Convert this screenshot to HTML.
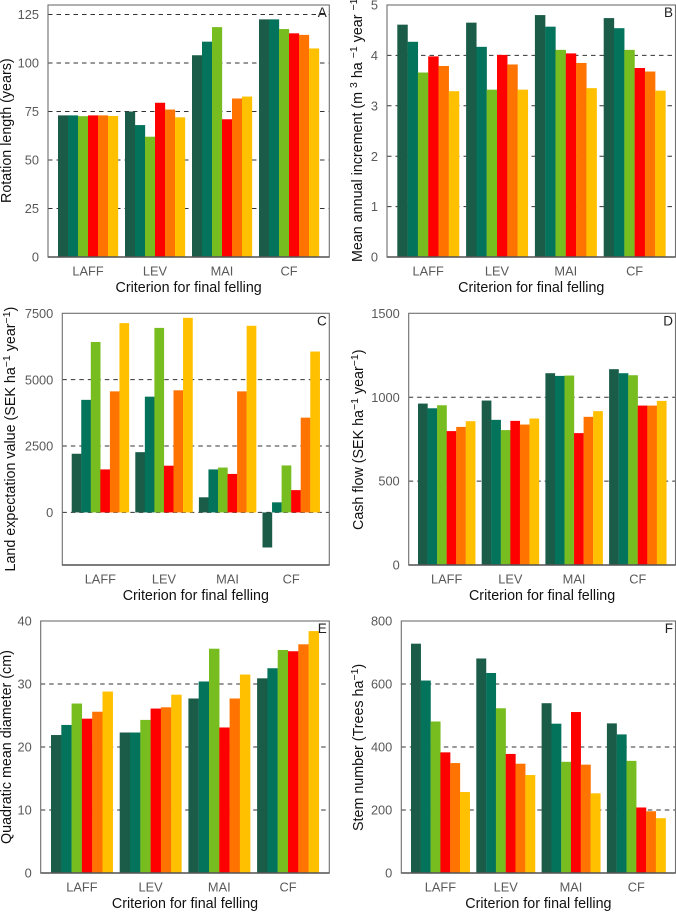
<!DOCTYPE html>
<html lang="en">
<head>
<meta charset="utf-8">
<title>Forest management criteria bar charts</title>
<style>
html,body{margin:0;padding:0;background:#fff;}
svg{display:block;font-family:"Liberation Sans",Arial,sans-serif;}
.tick{font-size:12.8px;fill:#595959;}
.title{font-size:14.3px;fill:#111;}
.letter{font-size:13.5px;fill:#222;}
</style>
</head>
<body>
<svg id="chart" width="676" height="912" viewBox="0 0 676 912" xmlns="http://www.w3.org/2000/svg"></svg>
<script>
const categories = ['LAFF', 'LEV', 'MAI', 'CF'];
const seriesColors = ['#1a5c47', '#03735c', '#78bd1f', '#ff0000', '#ff7300', '#ffc000'];

const valuesA = [[73, 73, 72.6, 73, 73, 72.7], [75, 68, 62, 79.5, 76, 72], [104, 111, 118.5, 71, 81.7, 82.7], [122.5, 122.5, 117.5, 115.3, 114.5, 107.5]];
const valuesB = [[4.61, 4.27, 3.66, 3.98, 3.79, 3.29], [4.65, 4.17, 3.32, 4.01, 3.82, 3.32], [4.80, 4.57, 4.11, 4.04, 3.85, 3.35], [4.74, 4.54, 4.11, 3.75, 3.68, 3.30]];
const valuesC = [[2210, 4240, 6420, 1620, 4560, 7130], [2270, 4360, 6950, 1760, 4600, 7330], [570, 1620, 1690, 1450, 4560, 7030], [-1320, 380, 1770, 840, 3570, 6060]];
const valuesD = [[962, 934, 952, 798, 823, 857], [980, 865, 804, 859, 837, 873], [1143, 1127, 1129, 786, 883, 917], [1167, 1143, 1131, 950, 950, 978]];
const valuesE = [[21.9, 23.5, 26.9, 24.5, 25.6, 28.8], [22.3, 22.3, 24.3, 26.1, 26.3, 28.3], [27.7, 30.4, 35.6, 23.1, 27.7, 31.5], [30.9, 32.5, 35.4, 35.2, 36.3, 38.4]];
const valuesF = [[728, 611, 481, 383, 349, 257], [681, 635, 523, 378, 347, 311], [539, 474, 353, 511, 344, 253], [475, 440, 356, 208, 196, 174]];

const ticksA = [0, 25, 50, 75, 100, 125];
const ticksB = [0, 1, 2, 3, 4, 5];
const ticksC = [0, 2500, 5000, 7500];
const ticksD = [0, 500, 1000, 1500];
const ticksE = [0, 10, 20, 30, 40];
const ticksF = [0, 200, 400, 600, 800];

const NS = 'http://www.w3.org/2000/svg';
const root = document.getElementById('chart');

function make(parent, tag, attrs, text) {
  const el = document.createElementNS(NS, tag);
  Object.keys(attrs).forEach(function (k) { el.setAttribute(k, attrs[k]); });
  if (text !== undefined) el.textContent = text;
  parent.appendChild(el);
  return el;
}

function addTitleParts(textEl, parts) {
  parts.forEach(function (p) {
    const span = document.createElementNS(NS, 'tspan');
    if (p.sup) {
      span.setAttribute('dy', '-5');
      span.setAttribute('font-size', '10.5');
    } else if (p.after) {
      span.setAttribute('dy', '5');
    }
    span.textContent = p.t;
    textEl.appendChild(span);
  });
}

function drawPanel(p) {
  const g = make(root, 'g', {});
  
  

  const y = function (v) { return p.bottom - (v - p.yMin) / (p.yMax - p.yMin) * (p.bottom - p.top); };
  const x = function (groupIndex, seriesIndex) { return p.firstBar + groupIndex * p.groupStep + seriesIndex * p.barWidth; };

  // grid lines behind the bars
  p.ticks.forEach(function (t) {
    if (y(t) > p.top + 2 && t !== p.yMin) {
      const line = make(g, 'line', { x1: p.left, x2: p.right, y1: y(t), y2: y(t), stroke: '#333', 'stroke-width': 1, 'stroke-dasharray': '4.5 4' });
      
      
    }
  });

  // bars
  p.values.forEach(function (group, gi) {
    group.forEach(function (v, si) {
      const top = Math.min(y(v), y(0));
      const h = Math.abs(y(v) - y(0));
      const bar = make(g, 'rect', { x: x(gi, si), y: top, width: p.barWidth + 0.15, height: h, fill: seriesColors[si] });
      
      
    });
  });

  // frame
  const frame = make(g, 'rect', { x: p.left, y: p.top, width: p.right - p.left, height: p.bottom - p.top, fill: 'none', stroke: '#6e6e6e', 'stroke-width': 1.1 });
  
  
  const base = make(g, 'line', { x1: p.left, x2: p.right, y1: p.bottom, y2: p.bottom, stroke: '#555', 'stroke-width': 1.4 });
  
  

  // y tick labels
  p.ticks.forEach(function (t) {
    const label = make(g, 'text', { class: 'tick', x: p.left - 9, y: y(t) + 4.6, 'text-anchor': 'end' }, String(t));
    
    
  });

  // x tick labels
  categories.forEach(function (c, gi) {
    const label = make(g, 'text', { class: 'tick', x: x(gi, 3), y: p.bottom + 18.5, 'text-anchor': 'middle' }, c);
    
    
  });

  // axis titles
  const xTitle = make(g, 'text', { class: 'title', x: (p.left + p.right) / 2, y: p.bottom + 35, 'text-anchor': 'middle' }, 'Criterion for final felling');
  
  

  const yTitle = make(g, 'text', { class: 'title', transform: 'translate(' + p.titleX + ' ' + p.titleY + ') rotate(-90)' });
  addTitleParts(yTitle, p.yTitle);
  
  

  // panel letter
  const letter = make(g, 'text', { class: 'letter', x: p.right - 2.5, y: p.top + 12, 'text-anchor': 'end' }, p.letter);
  
  
}

drawPanel({ letter: 'A', values: valuesA, ticks: ticksA, yMin: 0, yMax: 129.9, left: 48, right: 329.3, top: 5, bottom: 257, firstBar: 58, groupStep: 67, barWidth: 10, titleX: 11, titleY: 203,
  yTitle: [{ t: 'Rotation length (years)' }] });
drawPanel({ letter: 'B', values: valuesB, ticks: ticksB, yMin: 0, yMax: 5, left: 387, right: 675.5, top: 5, bottom: 257, firstBar: 397.3, groupStep: 68.8, barWidth: 10.3, titleX: 362, titleY: 262,
  yTitle: [{ t: 'Mean annual increment (m ' }, { t: '3', sup: true }, { t: ' ha ', after: true }, { t: '\u22121', sup: true }, { t: ' year ', after: true }, { t: '\u22121', sup: true }, { t: ')', after: true }] });
drawPanel({ letter: 'C', values: valuesC, ticks: ticksC, yMin: -1980, yMax: 7500, left: 62.3, right: 329.3, top: 313.3, bottom: 565, firstBar: 71.7, groupStep: 63.6, barWidth: 9.55, titleX: 15, titleY: 571.5,
  yTitle: [{ t: 'Land expectation value (SEK ha' }, { t: '\u22121', sup: true }, { t: ' year', after: true }, { t: '\u22121', sup: true }, { t: ')', after: true }] });
drawPanel({ letter: 'D', values: valuesD, ticks: ticksD, yMin: 0, yMax: 1500, left: 408.7, right: 675.5, top: 313.3, bottom: 565, firstBar: 418, groupStep: 63.7, barWidth: 9.55, titleX: 363, titleY: 530,
  yTitle: [{ t: 'Cash flow (SEK ha' }, { t: '\u22121', sup: true }, { t: ' year', after: true }, { t: '\u22121', sup: true }, { t: ')', after: true }] });
drawPanel({ letter: 'E', values: valuesE, ticks: ticksE, yMin: 0, yMax: 40, left: 40.7, right: 329.3, top: 621, bottom: 873, firstBar: 51, groupStep: 68.7, barWidth: 10.3, titleX: 11, titleY: 844,
  yTitle: [{ t: 'Quadratic mean diameter (cm)' }] });
drawPanel({ letter: 'F', values: valuesF, ticks: ticksF, yMin: 0, yMax: 800, left: 401.3, right: 675.5, top: 621, bottom: 873, firstBar: 411, groupStep: 65.3, barWidth: 9.8, titleX: 363, titleY: 831,
  yTitle: [{ t: 'Stem number (Trees ha' }, { t: '\u22121', sup: true }, { t: ')', after: true }] });
</script>
</body>
</html>
